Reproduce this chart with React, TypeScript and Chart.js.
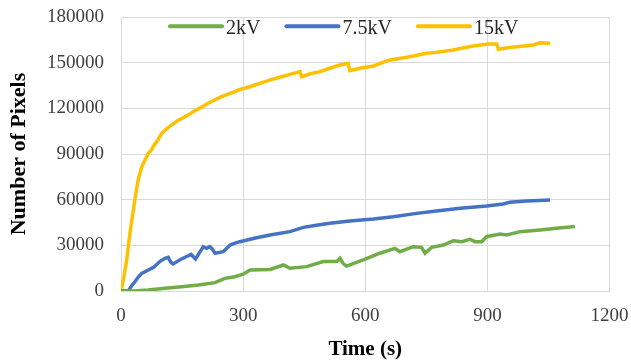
import React, { useEffect, useRef } from 'react';
import { Chart, registerables } from 'chart.js';

Chart.register(...registerables);

const seriesNames = ['2kV', '7.5kV', '15kV'];
const seriesColors = ['#70AD47', '#4472C4', '#FFC000'];

const time2kV = [0, 30, 67, 108, 149, 190, 231, 255, 280, 300, 317, 366, 399, 415, 456, 497, 530, 538, 546, 554, 595, 636, 673, 685, 718, 738, 747, 763, 792, 816, 837, 857, 870, 886, 898, 931, 948, 980, 1029, 1070, 1115];
const pixels2kV = [0, 0, 650, 1800, 2800, 3900, 5500, 8300, 9400, 11000, 13800, 14200, 17100, 14900, 16000, 19300, 19300, 21500, 18000, 16400, 20400, 24800, 28000, 25800, 29100, 28700, 24800, 28700, 30200, 33000, 32400, 34000, 32400, 32400, 35700, 37400, 36800, 39000, 40100, 41200, 42300];

const time75kV = [0, 18, 25, 34, 42, 51, 67, 80, 96, 108, 116, 122, 128, 145, 160, 172, 183, 202, 210, 218, 223, 231, 251, 268, 280, 292, 330, 366, 415, 448, 480, 513, 562, 620, 669, 726, 775, 833, 898, 939, 955, 996, 1054];
const pixels75kV = [0, 0, 3000, 6100, 9000, 11600, 13800, 15500, 19500, 21500, 22100, 19000, 17800, 20500, 22500, 24000, 21000, 29100, 28000, 29100, 28000, 24800, 25800, 30200, 31500, 32400, 34800, 36800, 39000, 41800, 43200, 44500, 46000, 47300, 48800, 51000, 52600, 54300, 55800, 57200, 58300, 59100, 59800];

const time15kV = [0, 7, 14, 22, 34, 42, 51, 63, 67, 75, 79, 90, 100, 112, 124, 140, 157, 170, 182, 200, 214, 230, 247, 265, 280, 292, 304, 320, 341, 365, 390, 415, 440, 444, 465, 489, 515, 538, 558, 562, 590, 620, 640, 661, 690, 718, 751, 767, 790, 816, 840, 865, 902, 923, 927, 950, 972, 1013, 1029, 1054];
const pixels15kV = [0, 9000, 20400, 38100, 59800, 72900, 81700, 88200, 90500, 92600, 94800, 99000, 103600, 106500, 109000, 112000, 114500, 116500, 118500, 121000, 123300, 125500, 127700, 129500, 131000, 132500, 133200, 134500, 136400, 138500, 140400, 142300, 144100, 140800, 142700, 144100, 146500, 148500, 149600, 144700, 146500, 147800, 149800, 151800, 153000, 154400, 156200, 156600, 157300, 158300, 159600, 161000, 162300, 162300, 158800, 159800, 160500, 161600, 163100, 162700];

const xTicks = [0, 300, 600, 900, 1200];
const yTicks = [0, 30000, 60000, 90000, 120000, 150000, 180000];

const xTitle = 'Time (s)';
const yTitle = 'Number of Pixels';

const seriesTimes = [time2kV, time75kV, time15kV];
const seriesValues = [pixels2kV, pixels75kV, pixels15kV];

const inlineLegend = {
  id: 'inlineLegend',
  afterDraw(chart: any) {
    const { ctx, chartArea } = chart;
    ctx.save();
    ctx.font = '20px "Liberation Serif"';
    ctx.textBaseline = 'alphabetic';
    ctx.textAlign = 'left';
    let x = chartArea.left + 49;
    const lineY = chartArea.top + 9.3;
    const textY = chartArea.top + 17;
    chart.data.datasets.forEach((ds: any) => {
      ctx.strokeStyle = ds.borderColor;
      ctx.lineWidth = 4;
      ctx.lineCap = 'round';
      ctx.beginPath();
      ctx.moveTo(x, lineY);
      ctx.lineTo(x + 52, lineY);
      ctx.stroke();
      x += 52 + 4;
      ctx.fillStyle = '#262626';
      ctx.fillText(ds.label, x, textY);
      x += ctx.measureText(ds.label).width + 26;
    });
    ctx.restore();
  },
};

export default function App() {
  const canvasRef = useRef<HTMLCanvasElement | null>(null);

  useEffect(() => {
    document.body.style.margin = '0';
    const canvas = canvasRef.current;
    if (!canvas) return;
    const gridColor = '#D9D9D9';
    const chart = new Chart(canvas, {
      type: 'line',
      data: {
        datasets: seriesNames.map((name, i) => ({
          label: name,
          data: seriesTimes[i].map((t, j) => ({ x: t, y: seriesValues[i][j] })),
          borderColor: seriesColors[i],
          backgroundColor: seriesColors[i],
          borderWidth: 3.5,
          pointRadius: 0,
          tension: 0,
          fill: false,
        })),
      },
      options: {
        responsive: false,
        animation: false,
        devicePixelRatio: 1,
        layout: { padding: 0 },
        plugins: {
          legend: { display: false },
          tooltip: { enabled: false },
        },
        scales: {
          x: {
            type: 'linear',
            min: 0,
            max: 1200,
            afterBuildTicks: (scale: any) => {
              scale.ticks = xTicks.map((v) => ({ value: v }));
            },
            afterFit: (scale: any) => {
              scale.height = 69;
              scale.paddingLeft = 0;
              scale.paddingRight = 21.5;
            },
            grid: { color: gridColor, lineWidth: 1, drawTicks: false },
            border: { display: true, color: gridColor },
            ticks: {
              padding: 14,
              color: '#404040',
              font: { family: '"Liberation Serif"', size: 19 },
              maxRotation: 0,
              callback: (v: any) => String(v),
            },
            title: {
              display: true,
              text: xTitle,
              color: '#000000',
              font: { family: '"Liberation Serif"', size: 21, weight: 'bold', lineHeight: 1 },
              padding: { top: 0, bottom: 0 },
            },
          },
          y: {
            type: 'linear',
            min: 0,
            max: 180000,
            afterBuildTicks: (scale: any) => {
              scale.ticks = yTicks.map((v) => ({ value: v }));
            },
            afterFit: (scale: any) => {
              scale.width = 121;
              scale.paddingTop = 17;
              scale.paddingBottom = 0;
            },
            grid: { color: gridColor, lineWidth: 1, drawTicks: false },
            border: { display: true, color: gridColor },
            ticks: {
              padding: 17,
              color: '#404040',
              font: { family: '"Liberation Serif"', size: 19 },
              callback: (v: any) => String(v),
            },
            title: {
              display: true,
              text: yTitle,
              color: '#000000',
              font: { family: '"Liberation Serif"', size: 22, weight: 'bold', lineHeight: 1 },
              padding: { top: 8.5, bottom: 0 },
            },
          },
        },
      },
      plugins: [inlineLegend],
    });
    return () => chart.destroy();
  }, []);

  return (
    <div style={{ width: 631, height: 360 }}>
      <canvas ref={canvasRef} width={631} height={360} style={{ display: 'block' }} />
    </div>
  );
}
